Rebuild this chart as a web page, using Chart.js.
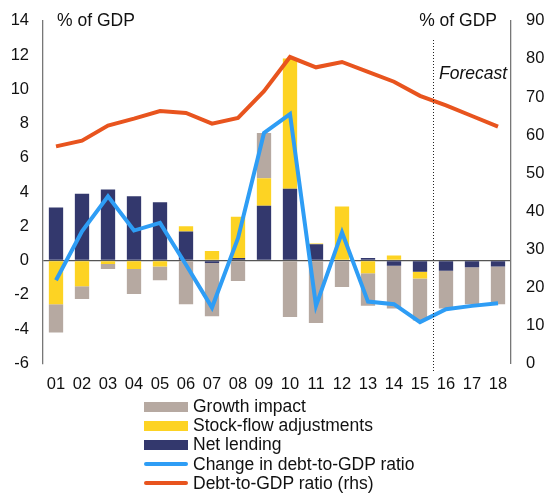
<!DOCTYPE html>
<html lang="en">
<head>
<meta charset="UTF-8">
<title>Debt dynamics</title>
<script src="https://cdn.jsdelivr.net/npm/chart.js@4.4.1/dist/chart.umd.min.js"></script>
<style>
body { margin: 0; background: #fff; font-family: "Liberation Sans", Arial, sans-serif; overflow: hidden; }
#wrap { position: absolute; left: 0; top: -4px; width: 550px; height: 409px; }
#legend { position: absolute; left: 144px; top: 397px; font-size: 17.5px; color: #111; }
.row { height: 19.2px; display: flex; align-items: center; }
.sw { width: 44px; margin-right: 5px; }
.box { height: 10px; }
.line { height: 4px; border-radius: 2px; }
</style>
</head>
<body>
<div id="wrap"><canvas id="chart"></canvas></div>
<div id="legend"></div>

<script type="text/javascript">
const years = ['01','02','03','04','05','06','07','08','09','10','11','12','13','14','15','16','17','18'];

// bar components, % of GDP
const netLending = [3.1, 3.9, 4.15, 3.75, 3.4, 1.7, -0.15, 0.15, 3.2, 4.2, 0.95, 0, 0.15, -0.3, -0.65, -0.6, -0.4, -0.35];
const stockFlow = [-2.55, -1.5, -0.2, -0.5, -0.35, 0.3, 0.55, 2.4, 1.6, 7.6, 0.05, 3.15, -0.75, 0.3, -0.4, 0, 0, 0];
const growthImpact = [-1.65, -0.75, -0.3, -1.45, -0.8, -2.55, -3.1, -1.2, 2.65, -3.3, -3.65, -1.55, -1.9, -2.5, -2.45, -2.2, -2.15, -2.2];

// lines
const changeDebt = [-1.15, 1.7, 3.75, 1.75, 2.2, -0.25, -2.75, 1.3, 7.45, 8.55, -2.65, 1.65, -2.4, -2.55, -3.6, -2.85, -2.65, -2.5];
const debtRatio = [57, 58.5, 62.5, 64.3, 66.3, 65.8, 63, 64.5, 71.5, 80.5, 77.8, 79.2, 76.6, 74, 70.3, 67.8, 65, 62.2];

const leftTicks = { min: -6, max: 14, step: 2 };
const rightTicks = { min: 0, max: 90, step: 10 };

const colNavy = '#33386d';
const colYellow = '#fdd323';
const colGrey = '#b6a9a1';
const colBlue = '#2e9df5';
const colOrange = '#e8541e';

const fontFam = '"Liberation Sans", Arial, sans-serif';
const tickFont = { size: 16.5, family: fontFam };

// canvas sits 4px above the page top, so page y = canvas y - 4
const extras = {
	id: 'extras',
	afterDraw(chart) {
		const ctx = chart.ctx;
		const area = chart.chartArea;
		const x = chart.scales.x;
		ctx.save();
		ctx.fillStyle = '#111';
		ctx.font = '17.5px ' + fontFam;
		ctx.textBaseline = 'middle';
		ctx.textAlign = 'left';
		ctx.fillText('% of GDP', area.left + 14, 25);
		ctx.textAlign = 'right';
		ctx.fillText('% of GDP', area.right - 14, 25);
		// forecast divider
		const xf = (x.getPixelForValue(14) + x.getPixelForValue(15)) / 2;
		ctx.strokeStyle = '#222';
		ctx.lineWidth = 1;
		ctx.setLineDash([1, 2]);
		ctx.beginPath();
		ctx.moveTo(Math.round(xf) + 0.5, 44);
		ctx.lineTo(Math.round(xf) + 0.5, 377);
		ctx.stroke();
		ctx.setLineDash([]);
		ctx.font = 'italic 17.5px ' + fontFam;
		ctx.textAlign = 'left';
		ctx.fillText('Forecast', xf + 6, 78);
		ctx.restore();
	}
};

const barDefaults = { barPercentage: 0.55, categoryPercentage: 1, yAxisID: 'y', order: 1, stack: 's' };

const config = {
	type: 'bar',
	data: {
		labels: years,
		datasets: [
			{ type: 'line', label: 'Change in debt-to-GDP ratio', data: changeDebt, borderColor: colBlue, borderWidth: 4, pointRadius: 0, yAxisID: 'y', order: 0, tension: 0 },
			{ type: 'line', label: 'Debt-to-GDP ratio (rhs)', data: debtRatio, borderColor: colOrange, borderWidth: 4, pointRadius: 0, yAxisID: 'y2', order: 0, tension: 0 },
			Object.assign({ label: 'Net lending', data: netLending, backgroundColor: colNavy }, barDefaults),
			Object.assign({ label: 'Stock-flow adjustments', data: stockFlow, backgroundColor: colYellow }, barDefaults),
			Object.assign({ label: 'Growth impact', data: growthImpact, backgroundColor: colGrey }, barDefaults)
		]
	},
	options: {
		responsive: true,
		maintainAspectRatio: false,
		animation: false,
		layout: { padding: { top: 3, left: 0, right: 0, bottom: 0 } },
		plugins: { legend: { display: false }, tooltip: { enabled: false } },
		scales: {
			x: {
				stacked: true,
				grid: { display: false, drawTicks: false },
				border: { display: false },
				ticks: { color: '#111', font: tickFont, padding: 11, maxRotation: 0, autoSkip: false }
			},
			y: {
				stacked: true,
				position: 'left',
				min: leftTicks.min, max: leftTicks.max,
				afterFit(s) { s.width = 43; },
				grid: {
					drawTicks: false,
					color: ctx => ctx.tick && ctx.tick.value === 0 ? '#555' : 'rgba(0,0,0,0)',
					lineWidth: 1.3
				},
				border: { display: true, color: '#777', width: 1.3 },
				ticks: { stepSize: leftTicks.step, color: '#111', font: tickFont, padding: 14 }
			},
			y2: {
				position: 'right',
				min: rightTicks.min, max: rightTicks.max,
				afterFit(s) { s.width = 39; },
				grid: { display: false, drawTicks: false },
				border: { display: true, color: '#777', width: 1.3 },
				ticks: { stepSize: rightTicks.step, color: '#111', font: tickFont, padding: 15 }
			}
		}
	},
	plugins: [extras]
};

new Chart(document.getElementById('chart'), config);

// legend below the chart
const legendItems = [
	{ text: 'Growth impact', color: colGrey, kind: 'box' },
	{ text: 'Stock-flow adjustments', color: colYellow, kind: 'box' },
	{ text: 'Net lending', color: colNavy, kind: 'box' },
	{ text: 'Change in debt-to-GDP ratio', color: colBlue, kind: 'line' },
	{ text: 'Debt-to-GDP ratio (rhs)', color: colOrange, kind: 'line' }
];
const legend = document.getElementById('legend');
legendItems.forEach(item => {
	const row = document.createElement('div');
	row.className = 'row';
	const sw = document.createElement('div');
	sw.className = 'sw ' + item.kind;
	sw.style.background = item.color;
	const span = document.createElement('span');
	span.textContent = item.text;
	row.appendChild(sw);
	row.appendChild(span);
	legend.appendChild(row);
});
</script>
</body>
</html>
